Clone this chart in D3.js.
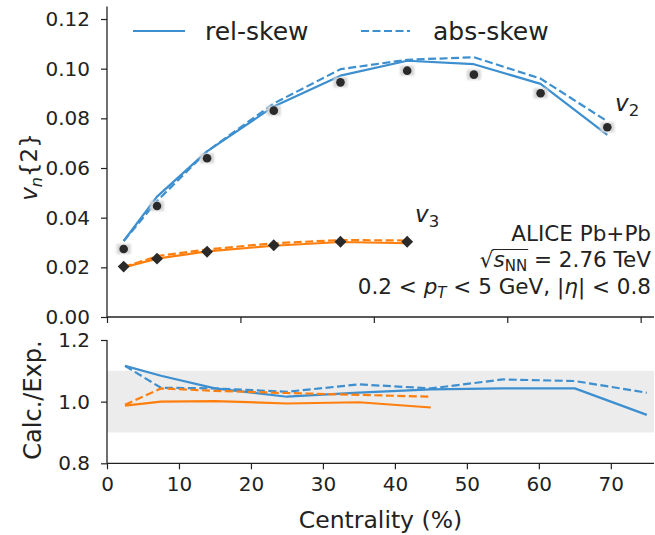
<!DOCTYPE html>
<html><head><meta charset="utf-8">
<script src="https://cdn.jsdelivr.net/npm/d3@7"></script>
<style>body{margin:0;background:#fff}svg{display:block}text{font-family:"DejaVu Sans",sans-serif;fill:#222}</style>
</head><body><svg id="c" width="655" height="535"></svg>
<script>
// ---- data ----
const centr = [2.5, 7.5, 15, 25, 35, 45, 55, 65, 75];
const centrV3 = [2.5, 7.5, 15, 25, 35, 45];
const v2Exp = [0.0274, 0.0447, 0.0639, 0.0831, 0.0945, 0.0992, 0.0976, 0.0901, 0.0764];
const v3Exp = [0.0203, 0.0235, 0.0263, 0.0289, 0.0303, 0.0303];
const v2Rel = [0.0306, 0.0485, 0.0667, 0.0848, 0.0972, 0.1032, 0.1018, 0.0939, 0.0733];
const v2Abs = [0.0306, 0.0467, 0.0667, 0.0860, 0.0998, 0.1036, 0.1046, 0.0960, 0.0788];
const v3Rel = [0.0200, 0.0235, 0.0264, 0.0287, 0.0302, 0.0297];
const v3Abs = [0.0201, 0.0245, 0.0272, 0.0297, 0.0310, 0.0308];
const ratioV2Rel = [1.116, 1.084, 1.043, 1.016, 1.029, 1.040, 1.043, 1.043, 0.957];
const ratioV2Abs = [1.116, 1.045, 1.043, 1.032, 1.056, 1.043, 1.072, 1.067, 1.029];
const ratioV3Rel = [0.987, 1.000, 1.002, 0.994, 0.998, 0.981];
const ratioV3Abs = [0.990, 1.043, 1.035, 1.028, 1.022, 1.016];
const topYTicks = [0, 0.02, 0.04, 0.06, 0.08, 0.10, 0.12];
const topXTicks = [0, 20, 40, 60, 80];
const botYTicks = [0.8, 1.0, 1.2];
const botXTicks = [0, 10, 20, 30, 40, 50, 60, 70];
const legendLabels = ["rel-skew", "abs-skew"];

const BLUE = "#3d8fcf", ORANGE = "#ff7f0e", INK = "#222";
const svg = d3.select("#c");
const defs = svg.append("defs");
defs.append("filter").attr("id", "blur").append("feGaussianBlur").attr("stdDeviation", 1.2);

const xTop = d3.scaleLinear().domain([0, 82]).range([107, 654]);
const yTop = d3.scaleLinear().domain([0, 0.125]).range([317, 6.6]);
const xBot = d3.scaleLinear().domain([0, 76]).range([107, 654]);
const yBot = d3.scaleLinear().domain([0.8, 1.2]).range([463.3, 340]);

// ---- bottom band ----
svg.append("rect").attr("x", xBot(0)).attr("width", xBot(76) - xBot(0))
  .attr("y", yBot(1.1)).attr("height", yBot(0.9) - yBot(1.1)).attr("fill", "#ececec");

function axes(x, y, xt, yt, yfmt, xlabels) {
  const g = svg.append("g");
  const xa = d3.axisBottom(x).tickValues(xt).tickSize(6).tickPadding(8)
    .tickFormat(xlabels ? d3.format("d") : () => "");
  const ya = d3.axisLeft(y).tickValues(yt).tickSize(6).tickPadding(11).tickFormat(d3.format(yfmt));
  const gx = g.append("g").attr("transform", `translate(0,${y.range()[0]})`).call(xa);
  const gy = g.append("g").attr("transform", `translate(${x.range()[0]},0)`).call(ya);
  [gx, gy].forEach(a => {
    a.select(".domain").attr("stroke", INK).attr("stroke-width", 1.3);
    a.selectAll(".tick line").attr("stroke", INK).attr("stroke-width", 1.2);
    a.selectAll(".tick text").attr("font-size", 20).attr("fill", INK).attr("font-family", "DejaVu Sans");
  });
  gx.select(".domain").attr("d", `M${x.range()[0]},0H${x.range()[1]}`);
  gy.select(".domain").attr("d", `M0,${y.range()[0]}V${y.range()[1]}`);
}
axes(xTop, yTop, topXTicks, topYTicks, ".2f", false);
axes(xBot, yBot, botXTicks, botYTicks, ".1f", true);

// ---- lines ----
function drawLine(x, y, xs, ys, color, dashed) {
  const line = d3.line().x(d => x(d[0])).y(d => y(d[1]));
  svg.append("path").attr("d", line(xs.map((v, i) => [v, ys[i]])))
    .attr("fill", "none").attr("stroke", color).attr("stroke-width", 2.2)
    .attr("stroke-dasharray", dashed ? "8,3.5" : null).attr("stroke-linejoin", "round");
}
drawLine(xTop, yTop, centr, v2Rel, BLUE, false);
drawLine(xTop, yTop, centr, v2Abs, BLUE, true);
drawLine(xTop, yTop, centrV3, v3Rel, ORANGE, false);
drawLine(xTop, yTop, centrV3, v3Abs, ORANGE, true);

drawLine(xBot, yBot, centr, ratioV2Rel, BLUE, false);
drawLine(xBot, yBot, centr, ratioV2Abs, BLUE, true);
drawLine(xBot, yBot, centrV3, ratioV3Rel, ORANGE, false);
drawLine(xBot, yBot, centrV3, ratioV3Abs, ORANGE, true);

// ---- data markers ----
svg.append("g").attr("filter", "url(#blur)").selectAll("rect").data(centr.map((c, i) => [c, v2Exp[i]])).join("rect")
  .attr("x", d => xTop(d[0]) - 7).attr("y", d => yTop(d[1]) - 5).attr("width", 14).attr("height", 10)
  .attr("fill", "#d6d6d6");
svg.append("g").selectAll("circle").data(centr.map((c, i) => [c, v2Exp[i]])).join("circle")
  .attr("cx", d => xTop(d[0])).attr("cy", d => yTop(d[1])).attr("r", 4.3).attr("fill", "#2a2a2a");
svg.append("g").selectAll("path").data(centrV3.map((c, i) => [c, v3Exp[i]])).join("path")
  .attr("d", d3.symbol(d3.symbolDiamond2, 90)())
  .attr("transform", d => `translate(${xTop(d[0])},${yTop(d[1])})`)
  .attr("fill", "#2a2a2a");

// ---- legend ----
const lg = svg.append("g");
[[133, 185, false, 205], [361, 410, true, 433]].forEach((p, i) => {
  lg.append("line").attr("x1", p[0]).attr("x2", p[1]).attr("y1", 31).attr("y2", 31)
    .attr("stroke", BLUE).attr("stroke-width", 2.2).attr("stroke-dasharray", p[2] ? "8,3.5" : null);
  lg.append("text").attr("x", p[3]).attr("y", 40).attr("font-size", 25).text(legendLabels[i]);
});

// ---- labels ----
function vLabel(x, y, sub) {
  const t = svg.append("text").attr("x", x).attr("y", y).attr("font-size", 23);
  t.append("tspan").attr("font-style", "italic").text("v");
  t.append("tspan").attr("font-size", 16.5).attr("dy", 4.5).text(sub);
}
vLabel(615, 111, "2");
vLabel(415, 222, "3");

// y label top
const yl = svg.append("text").attr("transform", "translate(37,167) rotate(-90)")
  .attr("text-anchor", "middle").attr("font-size", 23);
yl.append("tspan").attr("font-style", "italic").text("v");
yl.append("tspan").attr("font-style", "italic").attr("font-size", 16).attr("dy", 5).text("n");
yl.append("tspan").attr("dy", -5).text("{2}");

svg.append("text").attr("transform", "translate(41,400) rotate(-90)")
  .attr("text-anchor", "middle").attr("font-size", 24).text("Calc./Exp.");
svg.append("text").attr("x", 380.5).attr("y", 528).attr("text-anchor", "middle")
  .attr("font-size", 23.5).text("Centrality (%)");

// annotation
const AX = 651, FS = 21.5;
svg.append("text").attr("x", AX).attr("y", 241).attr("text-anchor", "end").attr("font-size", FS).text("ALICE Pb+Pb");
const t2 = svg.append("text").attr("x", AX).attr("y", 267).attr("text-anchor", "end").attr("font-size", FS);
t2.append("tspan").text("\u221A");
t2.append("tspan").attr("font-style", "italic").text("s");
t2.append("tspan").attr("font-size", 15).attr("dy", 4).text("NN");
t2.append("tspan").attr("dy", -4).text(" = 2.76 TeV");
const t3 = svg.append("text").attr("x", AX).attr("y", 294).attr("text-anchor", "end").attr("font-size", FS);
t3.append("tspan").text("0.2 < ");
t3.append("tspan").attr("font-style", "italic").text("p");
t3.append("tspan").attr("font-style", "italic").attr("font-size", 15).attr("dy", 4).text("T");
t3.append("tspan").attr("dy", -4).text(" < 5 GeV, |");
t3.append("tspan").attr("font-style", "italic").text("\u03B7");
t3.append("tspan").text("| < 0.8");
// radical overline
try {
  const n = t2.node();
  const x0 = n.getEndPositionOfChar(0).x - 1, x1 = n.getEndPositionOfChar(3).x + 1;
  svg.append("line").attr("x1", x0).attr("x2", x1).attr("y1", 267 - 17.5).attr("y2", 267 - 17.5)
    .attr("stroke", INK).attr("stroke-width", 1.2);
} catch (e) {}
</script></body></html>
